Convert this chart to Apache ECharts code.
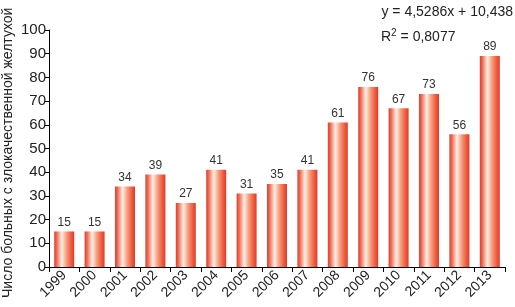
<!DOCTYPE html>
<html><head><meta charset="utf-8">
<script src="https://cdn.jsdelivr.net/npm/echarts@6/dist/echarts.min.js"></script>
<style>html,body{margin:0;padding:0;background:#fff}#c{width:515px;height:307px}</style>
</head><body><div id="c"></div>
<script>
const years = ['1999','2000','2001','2002','2003','2004','2005','2006','2007','2008','2009','2010','2011','2012','2013'];
const patients = [15,15,34,39,27,41,31,35,41,61,76,67,73,56,89];
const yTitle = 'Число больных с злокачественной желтухой';
const eqLine1 = 'y = 4,5286x + 10,438';
const eqLine2 = 'R{s|2} = 0,8077';

const font = '"Liberation Sans", Arial, sans-serif';
const chart = echarts.init(document.getElementById('c'), null, {renderer:'canvas'});
chart.setOption({
  animation:false,
  grid:{left:49,right:10,top:30,bottom:40,containLabel:false},
  xAxis:{type:'category',data:years,
    axisLine:{lineStyle:{color:'#000',width:1}},
    axisTick:{show:true,length:5,lineStyle:{color:'#000'}},
    axisLabel:{rotate:45,fontSize:14,color:'#222',fontFamily:font,margin:6,interval:0}},
  yAxis:{type:'value',min:0,max:100,interval:10,
    axisLine:{show:true,lineStyle:{color:'#000'}},
    axisTick:{show:true,length:4,lineStyle:{color:'#000'}},
    splitLine:{show:false},
    axisLabel:{fontSize:15,color:'#222',fontFamily:font,margin:3}},
  series:[{type:'bar',data:patients,barWidth:20,
    itemStyle:{color:new echarts.graphic.LinearGradient(0,0,1,0,[
      {offset:0,color:'#e03a28'},{offset:0.15,color:'#ef7660'},{offset:0.38,color:'#fff0e6'},
      {offset:0.6,color:'#f7a080'},{offset:0.85,color:'#ee5a3e'},{offset:1,color:'#e03a28'}])},
    label:{show:true,position:'top',distance:3,fontSize:12,color:'#333',fontFamily:font}}],
  graphic:[
    {type:'text',x:8,y:298,rotation:Math.PI/2,style:{text:yTitle,font:'14px '+font,fill:'#222',textAlign:'left',textVerticalAlign:'middle'}},
    {type:'text',right:2,top:5,style:{text:eqLine1,font:'14px '+font,fill:'#222'}},
    {type:'text',left:381,top:28,style:{text:eqLine2,font:'14px '+font,fill:'#222',rich:{s:{fontSize:10,verticalAlign:'top',padding:[0,0,8,0]}}}}
  ]
});
</script></body></html>
